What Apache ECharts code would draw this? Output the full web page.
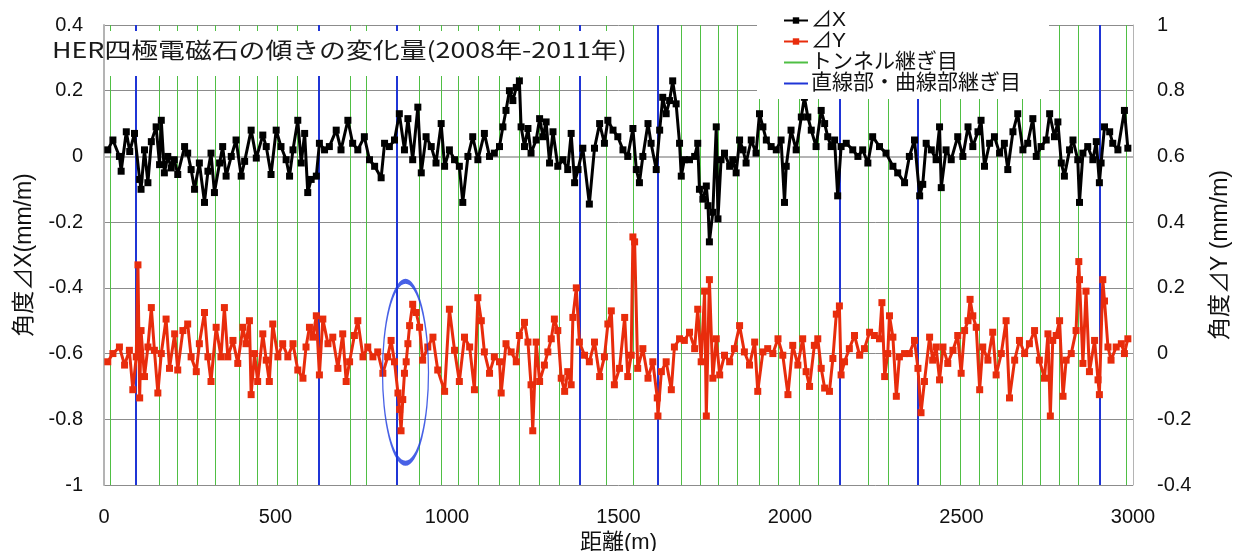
<!DOCTYPE html>
<html>
<head>
<meta charset="utf-8">
<script src="https://cdn.jsdelivr.net/npm/echarts@6.0.0/dist/echarts.min.js"></script>
<style>
  html, body { margin: 0; padding: 0; background: #fff; }
  #chart { width: 1241px; height: 551px; }
</style>
</head>
<body>
<div id="chart"></div>
<script>
// distance along the ring (m) and tilt change of each magnet
const dxPos = [11, 26, 45, 50, 65, 75, 89, 104, 108, 118, 128, 138, 152, 162, 167, 176, 186, 196, 205, 215,
  235, 244, 254, 264, 278, 293, 303, 312, 322, 337, 346, 356, 371, 385, 400, 410, 429, 444, 463, 473,
  487, 502, 516, 531, 541, 551, 565, 575, 585, 594, 604, 619, 628, 643, 657, 677, 691, 711, 725, 740,
  759, 774, 789, 808, 818, 832, 847, 861, 876, 886, 900, 915, 925, 939, 954, 968, 983, 993, 1007, 1022,
  1036, 1046, 1061, 1075, 1090, 1109, 1124, 1138, 1153, 1163, 1172, 1182, 1192, 1202, 1211, 1216, 1226, 1236, 1245, 1260,
  1270, 1280, 1289, 1299, 1309, 1323, 1338, 1352, 1362, 1372, 1382, 1396, 1415, 1430, 1445, 1459, 1469, 1484, 1498, 1513,
  1527, 1542, 1552, 1561, 1571, 1586, 1595, 1610, 1620, 1629, 1639, 1649, 1658, 1668, 1678, 1683, 1692, 1707, 1722, 1731,
  1736, 1746, 1756, 1761, 1765, 1775, 1785, 1790, 1799, 1809, 1824, 1833, 1843, 1853, 1863, 1872, 1887, 1901, 1911, 1921,
  1931, 1945, 1960, 1974, 1984, 1989, 2003, 2018, 2033, 2042, 2052, 2062, 2076, 2091, 2101, 2110, 2120, 2130, 2139, 2149,
  2164, 2183, 2198, 2212, 2227, 2241, 2261, 2280, 2300, 2314, 2334, 2348, 2363, 2378, 2387, 2397, 2412, 2426, 2436, 2441,
  2455, 2470, 2489, 2504, 2519, 2533, 2548, 2557, 2567, 2582, 2596, 2611, 2625, 2635, 2650, 2664, 2679, 2693, 2708, 2718,
  2732, 2747, 2757, 2771, 2781, 2791, 2800, 2815, 2825, 2839, 2844, 2854, 2868, 2883, 2893, 2902, 2907, 2917, 2932, 2941,
  2956, 2975, 2985];
const dxVal = [0.02, 0.05, 0, -0.045, 0.075, 0.015, 0.07, -0.07, -0.1, 0.02, -0.08, 0.045, 0.09, -0.025, 0.11, -0.05, 0, -0.035, -0.01, -0.055,
  0.03, 0.01, -0.04, -0.1, -0.02, -0.14, -0.045, 0.01, -0.11, -0.02, 0.03, -0.06, 0, 0.05, -0.06, -0.015, 0.08, -0.005, 0.065, 0.03,
  -0.055, 0.08, 0.03, -0.01, -0.06, 0.02, 0.11, -0.02, 0.07, -0.11, -0.07, -0.06, 0.04, 0.02, 0.03, 0.08, 0.02, 0.11, 0.04, 0.02,
  0.06, -0.01, -0.03, -0.065, 0.04, 0.03, 0.05, 0.13, 0.02, 0.115, -0.01, 0.15, -0.05, 0.06, 0.03, -0.02, 0.1, -0.03, 0.02, -0.01,
  -0.03, -0.14, 0, 0.06, -0.01, 0.07, 0, 0.01, 0.03, 0.09, 0.14, 0.2, 0.17, 0.21, 0.23, 0.09, 0.03, 0.085, 0.01, 0.05,
  0.115, 0.06, 0.105, -0.02, 0.075, -0.03, -0.01, -0.04, 0.07, -0.08, -0.04, 0.025, -0.145, 0.025, 0.1, 0.04, 0.11, 0.08, 0.06, 0.02,
  0, 0.085, -0.04, -0.08, 0, 0.1, 0.04, -0.04, 0.08, 0.18, 0.13, 0.17, 0.23, 0.16, 0.04, -0.06, -0.01, -0.01, 0, 0.04,
  -0.1, -0.13, -0.09, -0.15, -0.26, -0.17, 0.09, -0.19, -0.01, 0.01, -0.03, -0.01, -0.05, 0.05, 0.02, -0.02, 0.05, 0.01, 0.13, 0.09,
  0.05, 0.03, 0.02, 0.05, -0.14, -0.03, 0.08, 0.02, 0.12, 0.18, 0.12, 0.08, 0.03, 0.14, 0.1, 0.06, 0.03, 0.05, -0.12, 0.03,
  0.04, 0.02, 0, 0.02, -0.02, 0.06, 0.03, 0.01, -0.03, -0.05, -0.08, 0, 0.05, -0.12, -0.085, 0.04, 0.02, -0.01, 0.09, -0.095,
  0.02, -0.01, 0.06, 0, 0.09, 0.03, 0.075, 0.11, -0.03, 0.04, 0.06, 0.01, 0.04, -0.04, 0.075, 0.13, 0.02, 0.04, 0.115, 0,
  0.03, 0.05, 0.13, 0.06, 0.105, -0.02, -0.06, 0.02, 0.05, -0.01, -0.14, 0.01, 0.03, -0.01, 0.045, -0.08, -0.02, 0.09, 0.075, 0.04,
  0.02, 0.14, 0.025];

const dyPos = [11, 26, 45, 60, 74, 84, 94, 99, 104, 108, 118, 128, 138, 147, 157, 167, 181, 191, 206, 215,
  230, 244, 254, 269, 278, 293, 303, 312, 327, 341, 351, 361, 376, 390, 405, 414, 424, 429, 439, 448,
  463, 473, 482, 492, 507, 521, 536, 551, 565, 580, 589, 599, 609, 619, 628, 638, 653, 667, 682, 696,
  706, 716, 730, 740, 755, 769, 784, 798, 813, 827, 837, 847, 857, 862, 866, 871, 876, 881, 886, 891,
  900, 910, 920, 929, 944, 959, 973, 993, 1007, 1022, 1036, 1051, 1066, 1080, 1090, 1100, 1109, 1124, 1138, 1153,
  1158, 1172, 1187, 1202, 1211, 1226, 1236, 1245, 1250, 1260, 1270, 1284, 1294, 1304, 1313, 1323, 1333, 1343, 1352, 1362,
  1367, 1377, 1386, 1401, 1415, 1430, 1445, 1459, 1469, 1479, 1488, 1503, 1518, 1527, 1537, 1542, 1547, 1556, 1571, 1586,
  1600, 1613, 1615, 1625, 1639, 1654, 1663, 1678, 1692, 1707, 1722, 1731, 1741, 1751, 1756, 1765, 1775, 1785, 1795, 1809,
  1824, 1838, 1853, 1867, 1882, 1897, 1906, 1921, 1935, 1950, 1965, 1979, 1994, 2008, 2023, 2037, 2047, 2057, 2071, 2081,
  2091, 2101, 2115, 2125, 2135, 2144, 2149, 2159, 2173, 2188, 2203, 2217, 2232, 2246, 2261, 2268, 2276, 2285, 2290, 2300,
  2310, 2319, 2334, 2348, 2363, 2373, 2382, 2392, 2407, 2416, 2426, 2436, 2446, 2460, 2475, 2489, 2499, 2509, 2519, 2525,
  2533, 2543, 2553, 2562, 2577, 2591, 2601, 2616, 2630, 2640, 2655, 2669, 2684, 2698, 2713, 2727, 2742, 2752, 2759, 2766,
  2776, 2786, 2796, 2805, 2820, 2834, 2842, 2844, 2854, 2863, 2873, 2888, 2898, 2902, 2912, 2917, 2927, 2936, 2951, 2966,
  2975, 2985];
const dyVal = [-0.025, 0, 0.02, -0.035, 0.01, -0.11, -0.01, 0.27, -0.135, 0.07, -0.07, 0.02, 0.14, 0.01, -0.12, 0, 0.105, -0.045, 0.06, -0.05,
  0.07, 0.09, -0.01, -0.055, 0.03, 0.125, -0.01, -0.085, 0.08, -0.01, 0.14, -0.01, 0.04, -0.03, 0.08, 0.03, 0.1, -0.125, 0, -0.085,
  0.06, -0.02, -0.085, 0.09, -0.01, 0.03, -0.01, 0.03, -0.05, -0.075, 0.02, 0.08, 0.05, 0.115, -0.065, 0.105, 0.03, 0.05, -0.045, 0.06,
  -0.085, -0.025, 0.055, 0.1, -0.01, 0.02, -0.01, 0.005, -0.06, -0.01, 0.04, -0.025, -0.12, -0.17, -0.235, -0.14, -0.06, -0.025, 0.03, 0.085,
  0.15, 0.125, 0.08, -0.02, 0.02, 0.05, -0.05, -0.115, 0.135, 0.01, -0.085, 0.05, 0.02, -0.11, 0.17, 0.1, 0.005, -0.06, -0.01, -0.025,
  -0.12, 0.03, 0.005, -0.025, 0.055, 0.095, 0.035, -0.095, -0.235, 0.035, -0.085, -0.035, 0.005, 0.045, 0.105, 0.07, -0.075, -0.115, -0.055, -0.095,
  0.11, 0.2, 0.035, -0.005, -0.025, 0.035, -0.07, -0.01, 0.09, 0.13, -0.095, -0.045, 0.11, -0.07, -0.005, 0.355, 0.34, -0.045, 0.015, -0.075,
  -0.025, -0.135, -0.19, -0.055, -0.025, -0.11, 0.02, 0.045, 0.04, 0.065, 0.015, 0.135, -0.025, 0.19, -0.19, 0.225, -0.075, 0.045, -0.065, -0.005,
  -0.025, 0.015, 0.085, 0.005, -0.035, 0.035, -0.115, 0.005, 0.015, 0, 0.045, -0.005, -0.125, 0.025, -0.035, 0.045, -0.055, -0.1, 0.025, 0.045,
  -0.045, -0.105, -0.115, -0.015, 0.12, 0.145, -0.065, -0.025, 0.015, 0.055, -0.005, 0.015, 0.065, 0.055, 0.045, 0.155, -0.07, 0, 0.115, 0.05,
  -0.13, -0.01, 0, 0, 0.04, -0.045, -0.18, -0.085, 0.05, -0.02, 0.02, -0.08, 0.02, -0.03, 0.01, 0.055, -0.06, 0.07, 0.1, 0.165,
  0.115, 0.08, -0.11, 0.02, -0.02, 0.065, -0.065, 0, 0.1, -0.135, -0.02, 0.04, 0, 0.03, 0.07, -0.02, -0.075, 0.06, -0.19, 0.04,
  0.055, 0.1, -0.13, -0.02, 0, 0.07, 0.28, 0.225, -0.03, 0.19, -0.055, 0.04, -0.08, -0.125, 0.225, 0.16, 0.02, -0.02, 0.02, 0.03,
  0, 0.045];

// joints (m)
const tunnelJoints = [18, 160, 215, 272, 325, 395, 448, 505, 562, 718, 764, 920, 983, 1034, 1090, 1153, 1211, 1268, 1326, 1464,
  1542, 1683, 1739, 1792, 1845, 1911, 1967, 2028, 2081, 2227, 2285, 2439, 2496, 2553, 2603, 2677, 2731, 2786, 2841, 2979];
const sectionJoints = [92, 626, 854, 1386, 1615, 2144, 2373, 2903];

// highlighted region (m, mm/m on left axis)
const markedRegion = [[879, -0.657]];

const titleText = 'HER四極電磁石の傾きの変化量(2008年-2011年)';
const FONT = '"Liberation Sans", "Noto Sans CJK JP", sans-serif';
const GREEN = '#4fbf44';
const BLUE = '#1f35d6';
const RED = '#e82c0c';

const chart = echarts.init(document.getElementById('chart'));

const tickFmt = v => String(+v.toFixed(1));

const option = {
  animation: false,
  backgroundColor: '#fff',
  textStyle: { fontFamily: FONT },
  grid: { left: 104, right: 108, top: 25, bottom: 66, outerBoundsMode: 'none', containLabel: false },
  legend: {
    data: [
      { name: '⊿X' },
      { name: '⊿Y' },
      { name: 'トンネル継ぎ目', itemStyle: { opacity: 0 } },
      { name: '直線部・曲線部継ぎ目', itemStyle: { opacity: 0 } }
    ],
    orient: 'vertical',
    left: 757,
    top: 0,
    padding: [10, 28, 5, 26],
    itemGap: 0,
    itemWidth: 24,
    itemHeight: 8,
    backgroundColor: '#fff',
    z: 20,
    textStyle: { fontSize: 21, lineHeight: 20, color: '#111', fontFamily: FONT, padding: [0, 0, 0, -2] }
  },
  xAxis: {
    type: 'value',
    min: 0,
    max: 3000,
    interval: 500,
    name: '距離(m)',
    nameLocation: 'middle',
    nameGap: 44,
    nameTextStyle: { fontSize: 22, color: '#111' },
    axisLine: { lineStyle: { color: '#b4b4b4', width: 2 } },
    axisTick: { show: false },
    axisLabel: { fontSize: 20, color: '#111', margin: 22, formatter: v => String(v) },
    splitLine: { show: false }
  },
  yAxis: [{
    type: 'value',
    position: 'left',
    min: -1,
    max: 0.4,
    interval: 0.2,
    name: '角度⊿X(mm/m)',
    nameLocation: 'middle',
    nameRotate: 90,
    nameGap: 68,
    nameTextStyle: { fontSize: 23, color: '#111' },
    axisLine: { show: true, lineStyle: { color: '#b4b4b4', width: 2 } },
    axisTick: { show: false },
    axisLabel: { fontSize: 20, color: '#111', margin: 21, formatter: tickFmt },
    splitLine: { lineStyle: { color: '#8c8c8c', width: 1 } }
  }, {
    type: 'value',
    position: 'right',
    min: -0.4,
    max: 1,
    interval: 0.2,
    name: '角度⊿Y (mm/m)',
    nameLocation: 'middle',
    nameRotate: 90,
    nameGap: 76,
    nameTextStyle: { fontSize: 23, color: '#111' },
    axisLine: { show: true, lineStyle: { color: '#b4b4b4', width: 1 } },
    axisTick: { show: false },
    axisLabel: { fontSize: 20, color: '#111', margin: 24, formatter: tickFmt },
    splitLine: { show: false }
  }],
  series: [{
    name: 'トンネル継ぎ目',
    type: 'line',
    data: [],
    symbol: 'none',
    color: GREEN,
    lineStyle: { color: GREEN, width: 1 },
    markLine: {
      silent: true,
      z: 1,
      symbol: ['none', 'none'],
      label: { show: false },
      lineStyle: { color: GREEN, width: 1, type: 'solid' },
      data: tunnelJoints.map(x => ({ xAxis: x }))
    }
  }, {
    name: '直線部・曲線部継ぎ目',
    type: 'line',
    data: [],
    symbol: 'none',
    color: BLUE,
    lineStyle: { color: BLUE, width: 2 },
    markLine: {
      silent: true,
      z: 1,
      symbol: ['none', 'none'],
      label: { show: false },
      lineStyle: { color: BLUE, width: 2, type: 'solid' },
      data: sectionJoints.map(x => ({ xAxis: x }))
    }
  }, {
    name: '⊿X',
    type: 'line',
    yAxisIndex: 0,
    z: 3,
    data: dxPos.map((x, i) => [x, dxVal[i]]),
    symbol: 'rect',
    symbolSize: 7,
    color: '#000',
    itemStyle: { color: '#000' },
    lineStyle: { color: '#000', width: 3 }
  }, {
    name: '⊿Y',
    type: 'line',
    yAxisIndex: 1,
    z: 3,
    data: dyPos.map((x, i) => [x, dyVal[i]]),
    symbol: 'rect',
    symbolSize: 7,
    color: RED,
    itemStyle: { color: RED },
    lineStyle: { color: RED, width: 3 }
  }, {
    type: 'scatter',
    yAxisIndex: 0,
    z: 4,
    silent: true,
    data: markedRegion,
    symbol: 'circle',
    symbolSize: [46, 182],
    itemStyle: { color: 'rgba(0,0,0,0)', borderColor: '#1a3ae0', borderWidth: 2.5 }
  }],
  graphic: [{
    type: 'rect',
    z: 50,
    shape: { x: 106, y: 31, width: 526, height: 45 },
    style: { fill: '#fff' }
  }, {
    type: 'text',
    z: 51,
    x: 52,
    y: 39,
    scaleX: 1.22,
    style: { x: 0, y: 0, text: titleText, font: '22px "Noto Sans CJK JP"', fill: '#1a1a1a', verticalAlign: 'top' }
  }]
};

chart.setOption(option);
</script>
</body>
</html>
